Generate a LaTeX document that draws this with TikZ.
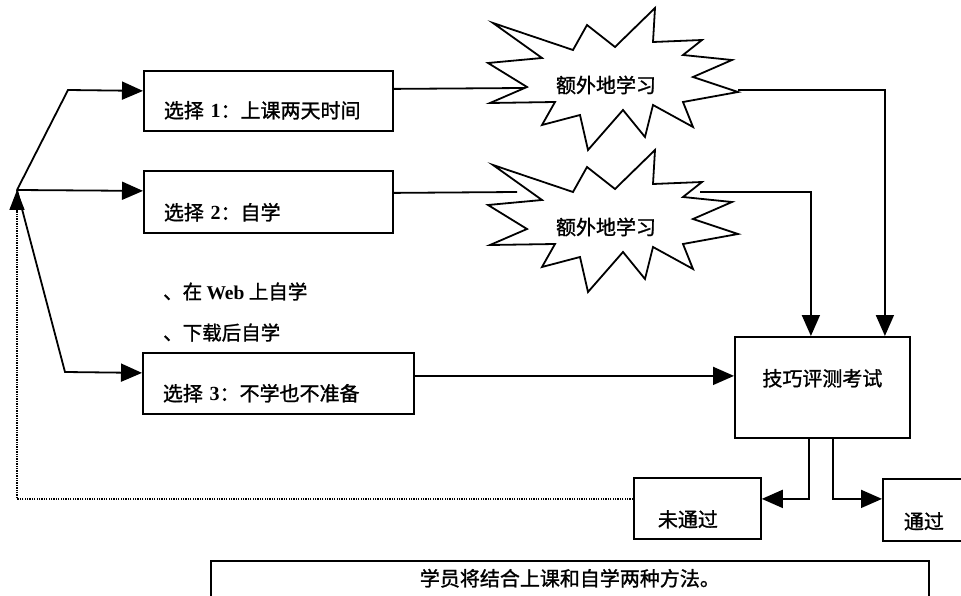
\documentclass[tikz,border=0pt]{standalone}
\usepackage{fontspec}
\setmainfont{Liberation Serif}
\newfontfamily\zhf[FakeBold=1.2]{Noto Sans CJK SC}
\newfontfamily\latf{Liberation Serif}
\newcommand\ltxt[1]{{\latf\bfseries #1}}
\usetikzlibrary{arrows.meta}
\begin{document}
\begin{tikzpicture}[x=1pt,y=-1pt,
  box/.style={draw, line width=1.8pt, inner ysep=0pt, anchor=north west, align=left,
    font=\zhf\fontsize{20}{22}\selectfont},
  conn/.style={line width=1.8pt, -{Triangle[length=21pt,width=18pt]}},
  plain/.style={line width=1.8pt},
  back/.style={line width=1.6pt, dash pattern=on 1.3pt off 1.1pt, -{Triangle[length=20pt,width=15pt]}},
  starline/.style={draw, line width=1.8pt, line join=miter},
  startext/.style={font=\zhf\fontsize{20}{22}\selectfont},
  plaintext/.style={font=\zhf\fontsize{19.5}{22}\selectfont, inner sep=0pt, anchor=base west}]
\useasboundingbox (0,0) rectangle (961,596);

% option boxes
\node[box, inner xsep=20pt, text width=209pt, text height=47pt, text depth=13pt] (c1) at (143,70)
  {选择 \ltxt{1}：上课两天时间};
\node[box, inner xsep=20pt, text width=209pt, text height=49pt, text depth=13pt] (c2) at (143,170)
  {选择 \ltxt{2}：自学};
\node[box, inner xsep=20pt, text width=231pt, text height=48pt, text depth=13pt] (c3) at (142,352)
  {选择 \ltxt{3}：不学也不准备};

% bullet text
\node[plaintext] (b1) at (163,299) {、在 \ltxt{Web} 上自学};
\node[plaintext] (b2) at (163,340) {、下载后自学};

% assessment and results
\node[box, align=center, inner xsep=0pt, text width=175pt, text height=49pt, text depth=52pt] (t) at (734,336)
  {技巧评测考试};
\node[box, inner xsep=24pt, text width=79pt, text height=49pt, text depth=12pt] (nt) at (633,477)
  {未通过};
\node[box, inner xsep=21pt, text width=42pt, text height=50pt, text depth=12pt] (p) at (882,478)
  {通过};

% summary box
\node[box, align=center, inner xsep=0pt, text width=718pt, text height=25pt, text depth=22pt,
  font=\zhf\fontsize{20}{22}\selectfont] (sum) at (210,560)
  {学员将结合上课和自学两种方法。};

% starbursts
\foreach \dy in {0,142} {
  \draw[starline] (493,23+\dy) -- (573,50+\dy) -- (587,25+\dy) -- (615,47+\dy) -- (655,8+\dy)
    -- (653,42+\dy) -- (702,40+\dy) -- (683,55+\dy) -- (732,60+\dy) -- (693,77+\dy)
    -- (738,92+\dy) -- (683,102+\dy) -- (693,127+\dy) -- (653,105+\dy) -- (645,137+\dy)
    -- (623,110+\dy) -- (588,150+\dy) -- (580,115+\dy) -- (542,125+\dy) -- (555,102+\dy)
    -- (490,103+\dy) -- (527,87+\dy) -- (488,63+\dy) -- (542,58+\dy) -- cycle;
}
\node[startext] (s1) at (606,85) {额外地学习};
\node[startext] (s2) at (606,227) {额外地学习};

\coordinate (s1in) at (524,88);
\coordinate (s1out) at (738,90);
\coordinate (s2in) at (517,192);
\coordinate (s2out) at (700,192);
\coordinate (ap) at (17,190);

% branches
\draw[conn] (ap) -- (68,90) -- ([yshift=10pt]c1.west);
\draw[conn] (ap) -- ([yshift=11pt]c2.west);
\draw[conn] (ap) -- (65,372) -- ([yshift=10.5pt]c3.west);

% to stars and on to the test
\draw[plain] ([yshift=12pt]c1.east) -- (s1in);
\draw[plain] ([yshift=9pt]c2.east) -- (s2in);
\draw[conn] (s1out) -| ([xshift=62.5pt]t.north);
\draw[conn] (s2out) -| ([xshift=-11.5pt]t.north);
\draw[conn] ([yshift=7.5pt]c3.east) -- ([yshift=11.5pt]t.west);

% results
\draw[conn] ([xshift=-13.5pt]t.south) |- ([yshift=9.5pt]nt.east);
\draw[conn] ([xshift=10.5pt]t.south) |- ([yshift=11pt]p.west);

% back loop
\draw[back] ([yshift=9.5pt]nt.west) -| (ap);
\end{tikzpicture}
\end{document}
